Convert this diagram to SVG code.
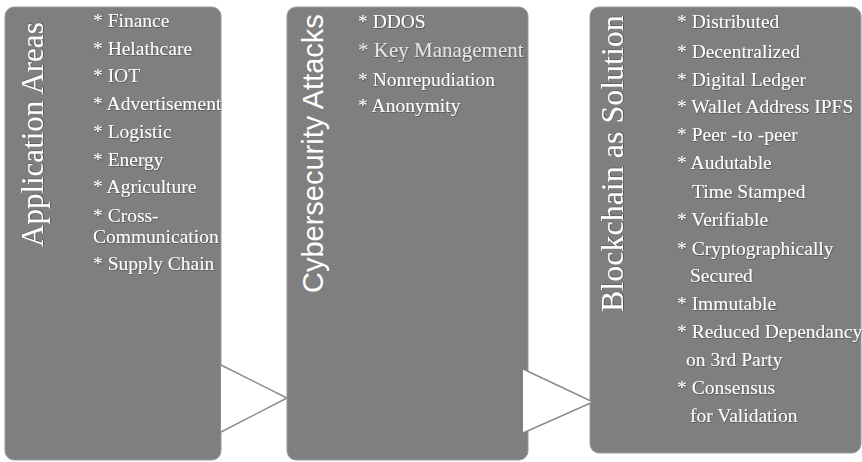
<svg xmlns="http://www.w3.org/2000/svg" width="862" height="462" viewBox="0 0 862 462">
  <style>
    .box { fill: #7f7f7f; stroke: #9a9a9a; stroke-width: 1; }
    .title { fill: #ffffff; font-family: "Liberation Serif", "Times New Roman", serif; font-size: 31px; }
    .title-sans { fill: #ffffff; font-family: "Liberation Sans", Arial, sans-serif; font-size: 29px; }
    .items text { fill: #ffffff; font-family: "Liberation Serif", "Times New Roman", serif; font-size: 19.5px; }
    .items text.light { fill: #e4e4e4; font-size: 21px; }
    .arrow-fill { fill: #ffffff; stroke: none; }
    .arrow-edge { fill: none; stroke: #8a8a8a; stroke-width: 1.5; stroke-linejoin: miter; }
  </style>
  <defs>
    <filter id="shadow" x="-10%" y="-10%" width="120%" height="120%">
      <feDropShadow dx="0.6" dy="0.8" stdDeviation="0.7" flood-color="#3a3a3a" flood-opacity="0.7"/>
    </filter>
  </defs>

  <rect width="862" height="462" fill="#ffffff"/>

  <!-- Column 1: application areas -->
  <g id="application-areas">
    <rect class="box" x="5" y="7" width="216" height="453" rx="9"/>
    <text class="title" transform="translate(43,247) rotate(-90)" filter="url(#shadow)">Application Areas</text>
    <g class="items" font-family="Liberation Serif, serif" filter="url(#shadow)">
      <text x="93" y="27">* Finance</text>
      <text x="93" y="55">* Helathcare</text>
      <text x="93" y="82">* IOT</text>
      <text x="93" y="110">* Advertisement</text>
      <text x="93" y="138">* Logistic</text>
      <text x="93" y="166">* Energy</text>
      <text x="93" y="193">* Agriculture</text>
      <text x="93" y="222">* Cross-</text>
      <text x="93" y="243">Communication</text>
      <text x="93" y="270">* Supply Chain</text>
    </g>
  </g>

  <!-- Column 2: cybersecurity attacks -->
  <g id="cybersecurity-attacks">
    <rect class="box" x="287" y="7" width="241" height="453" rx="9"/>
    <text class="title-sans" transform="translate(323,293) rotate(-90)">Cybersecurity Attacks</text>
    <g class="items" font-family="Liberation Serif, serif" filter="url(#shadow)">
      <text x="358" y="28">* DDOS</text>
      <text class="light" x="358" y="57">* Key Management</text>
      <text x="358" y="86">* Nonrepudiation</text>
      <text x="358" y="112">* Anonymity</text>
    </g>
  </g>

  <!-- Column 3: blockchain as solution -->
  <g id="blockchain-solution">
    <rect class="box" x="590" y="7" width="271" height="446" rx="9"/>
    <text class="title" style="font-size:32px" transform="translate(623,312) rotate(-90)" filter="url(#shadow)">Blockchain as Solution</text>
    <g class="items" font-family="Liberation Serif, serif" filter="url(#shadow)">
      <text x="677" y="28">* Distributed</text>
      <text x="677" y="58">* Decentralized</text>
      <text x="677" y="86">* Digital Ledger</text>
      <text x="677" y="113">* Wallet Address IPFS</text>
      <text x="677" y="141">* Peer -to -peer</text>
      <text x="677" y="169">* Audutable</text>
      <text x="692" y="198">Time Stamped</text>
      <text x="677" y="226">* Verifiable</text>
      <text x="677" y="255">* Cryptographically</text>
      <text x="690" y="282">Secured</text>
      <text x="677" y="310">* Immutable</text>
      <text x="677" y="338">* Reduced Dependancy</text>
      <text x="686" y="366">on 3rd Party</text>
      <text x="677" y="394">* Consensus</text>
      <text x="690" y="422">for Validation</text>
    </g>
  </g>

  <!-- Chevron connectors between columns -->
  <g id="connectors">
    <polygon class="arrow-fill" points="221,365 287,398 221,432"/>
    <polyline class="arrow-edge" points="221,365 287,398 221,432"/>
    <polygon class="arrow-fill" points="523,369 593,402 523,433"/>
    <polyline class="arrow-edge" points="523,369 593,402 523,433"/>
  </g>
</svg>
